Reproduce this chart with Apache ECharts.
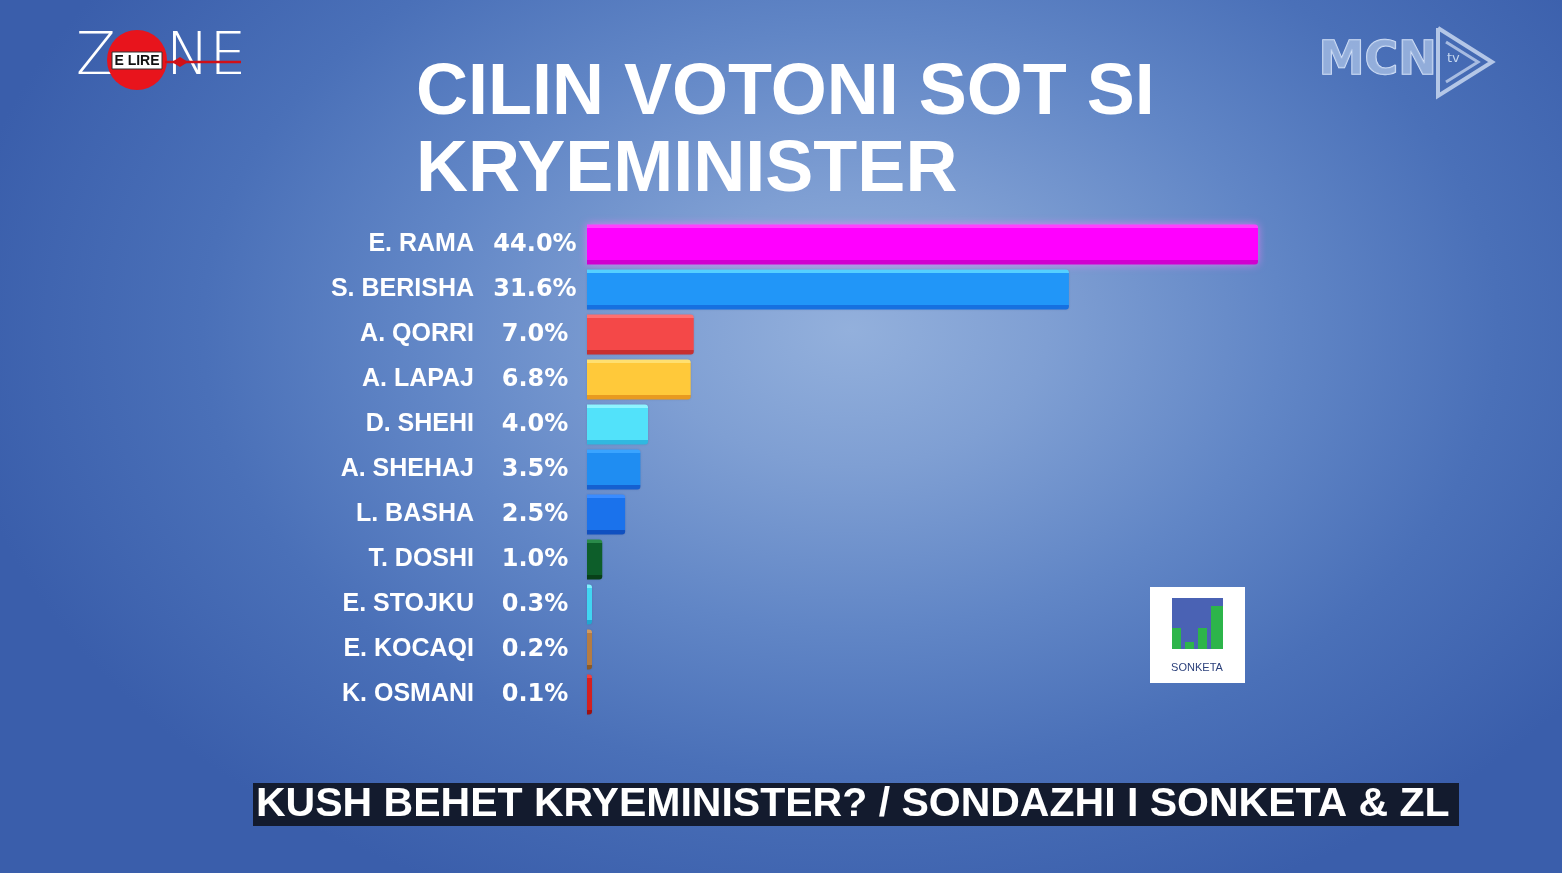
<!DOCTYPE html>
<html>
<head>
<meta charset="utf-8">
<script src="https://cdn.jsdelivr.net/npm/echarts@6/dist/echarts.min.js"></script>
<style>
html,body{margin:0;padding:0;width:1562px;height:873px;overflow:hidden;}
#c{width:1562px;height:873px;background:radial-gradient(ellipse 900px 620px at 850px 330px,#93b0dc 0%,#7f9fd3 22%,#6186c6 48%,#4a70b8 72%,#3a5eab 100%);}
</style>
</head>
<body>
<div id="c"></div>
<script>
var names = ['E. RAMA','S. BERISHA','A. QORRI','A. LAPAJ','D. SHEHI','A. SHEHAJ','L. BASHA','T. DOSHI','E. STOJKU','E. KOCAQI','K. OSMANI'];
var values = [44.0,31.6,7.0,6.8,4.0,3.5,2.5,1.0,0.3,0.2,0.1];
var pctLabels = ['44.0%','31.6%','7.0%','6.8%','4.0%','3.5%','2.5%','1.0%','0.3%','0.2%','0.1%'];
var barTop = ['#ff40ff','#55d0ff','#ff7070','#ffe070','#8ef4ff','#3aa4ff','#3a8cff','#2a8a4a','#7ef0ff','#d09a60','#f04040'];
var barMain = ['#ff00ff','#2196f8','#f44848','#ffc93a','#52e2fa','#1f8df2','#1a72ec','#0d5e2a','#40d6f2','#b57c42','#d42020'];
var barBottom = ['#d000d0','#1670e0','#c83030','#e89a20','#30b8e0','#1560d0','#1050c0','#084018','#20a8d0','#8a5a28','#a01010'];
var titleLines = ['CILIN VOTONI SOT SI','KRYEMINISTER'];
var caption = 'KUSH BEHET KRYEMINISTER? / SONDAZHI I SONKETA & ZL';

var chart = echarts.init(document.getElementById('c'), null, {renderer:'canvas'});

var data = values.map(function(v,i){
  return {value:v, itemStyle:{
    color:{type:'linear',x:0,y:0,x2:0,y2:1,colorStops:[
      {offset:0,color:barTop[i]},{offset:0.08,color:barTop[i]},
      {offset:0.1,color:barMain[i]},{offset:0.88,color:barMain[i]},
      {offset:0.9,color:barBottom[i]},{offset:1,color:barBottom[i]}]},
    shadowColor: i===0 ? 'rgba(255,120,255,0.7)' : 'rgba(0,0,40,0.15)',
    shadowBlur: i===0 ? 8 : 2,
    borderRadius:[0,3,3,0]
  }};
});

var labelFontName = {fontFamily:'Liberation Sans, Arial, sans-serif', fontWeight:'bold', fontSize:25, color:'#ffffff', padding:[4,0,0,0]};
var option = {
  animation:false,
  grid:{left:587, top:222, width:671, height:495, containLabel:false},
  xAxis:{type:'value', min:0, max:44, show:false},
  yAxis:[
    {type:'category', inverse:true, data:names, position:'left',
      axisLine:{show:false}, axisTick:{show:false},
      axisLabel:Object.assign({margin:113, align:'right'}, labelFontName)},
    {type:'category', inverse:true, data:pctLabels, position:'left', offset:0,
      axisLine:{show:false}, axisTick:{show:false},
      axisLabel:{margin:52, align:'center', padding:[4,0,0,0], fontFamily:'DejaVu Sans, sans-serif', fontWeight:'bold', fontSize:24, color:'#ffffff'}}
  ],
  series:[{type:'bar', yAxisIndex:0, data:data, barWidth:40, barMinHeight:5}],
  graphic:[
    // title
    {type:'text', left:416, top:58, style:{text:titleLines[0], fill:'#ffffff', font:'bold 72px "Liberation Sans", Arial, sans-serif', shadowColor:'rgba(225,238,255,0.95)', shadowBlur:18}},
    {type:'text', left:416, top:135, style:{text:titleLines[1], fill:'#ffffff', font:'bold 72px "Liberation Sans", Arial, sans-serif', shadowColor:'rgba(225,238,255,0.95)', shadowBlur:18}},
    // ZONE logo
    {type:'text', left:76, top:30, style:{text:'Z', fill:'#ffffff', font:'300 58px "DejaVu Sans", sans-serif'}},
    {type:'circle', shape:{cx:137, cy:60, r:30}, style:{fill:'#e8141c'}},
    {type:'rect', shape:{x:112, y:52, width:50, height:17}, style:{fill:'#ffffff', stroke:'#333', lineWidth:1}},
    {type:'text', x:137, y:61, style:{text:'E LIRE', fill:'#111111', font:'bold 14px "Liberation Sans", Arial, sans-serif', textAlign:'center', textVerticalAlign:'middle'}},
    {type:'text', left:166, top:30, style:{text:'NE', fill:'#ffffff', font:'300 58px "DejaVu Sans", sans-serif'}},
    {type:'line', shape:{x1:165, y1:62, x2:241, y2:62}, style:{stroke:'#d01018', lineWidth:2.5}},
    {type:'polygon', shape:{points:[[172,62],[180,57],[188,62],[180,67]]}, style:{fill:'#d01018'}},
    // MCN tv logo
    {type:'text', left:1318, top:38, style:{text:'MCN', fill:'rgba(160,185,225,0.85)', stroke:'rgba(230,240,255,0.9)', lineWidth:1.5, font:'bold 46px "DejaVu Sans", sans-serif'}},
    {type:'polyline', shape:{points:[[1438,28],[1492,62],[1438,96],[1438,28]]}, style:{stroke:'rgba(200,215,240,0.85)', lineWidth:4, fill:null}},
    {type:'polyline', shape:{points:[[1446,42],[1478,62],[1446,82]]}, style:{stroke:'rgba(200,215,240,0.75)', lineWidth:3, fill:null}},
    {type:'text', left:1447, top:52, style:{text:'tv', fill:'rgba(210,225,245,0.9)', font:'13px "DejaVu Sans", sans-serif'}},
    // SONKETA logo
    {type:'rect', shape:{x:1150, y:587, width:95, height:96}, style:{fill:'#ffffff'}},
    {type:'rect', shape:{x:1172, y:598, width:51, height:54}, style:{fill:'#4a62b4'}},
    {type:'rect', shape:{x:1172, y:628, width:9, height:21}, style:{fill:'#2db54a'}},
    {type:'rect', shape:{x:1185, y:642, width:9, height:7}, style:{fill:'#2db54a'}},
    {type:'rect', shape:{x:1198, y:628, width:9, height:21}, style:{fill:'#2db54a'}},
    {type:'rect', shape:{x:1211, y:606, width:12, height:43}, style:{fill:'#2db54a'}},
    {type:'rect', shape:{x:1172, y:649, width:51, height:3}, style:{fill:'#ffffff'}},
    {type:'text', x:1197, y:668, style:{text:'SONKETA', fill:'#2a3f7a', font:'11px "Liberation Sans", Arial, sans-serif', textAlign:'center', textVerticalAlign:'middle'}},
    // caption
    {type:'rect', shape:{x:253, y:783, width:1206, height:43}, style:{fill:'#131b2e'}},
    {type:'text', left:256, top:783, style:{text:caption, fill:'#ffffff', font:'bold 41px "Liberation Sans", Arial, sans-serif', lineHeight:44}}
  ]
};
chart.setOption(option);
</script>
</body>
</html>
